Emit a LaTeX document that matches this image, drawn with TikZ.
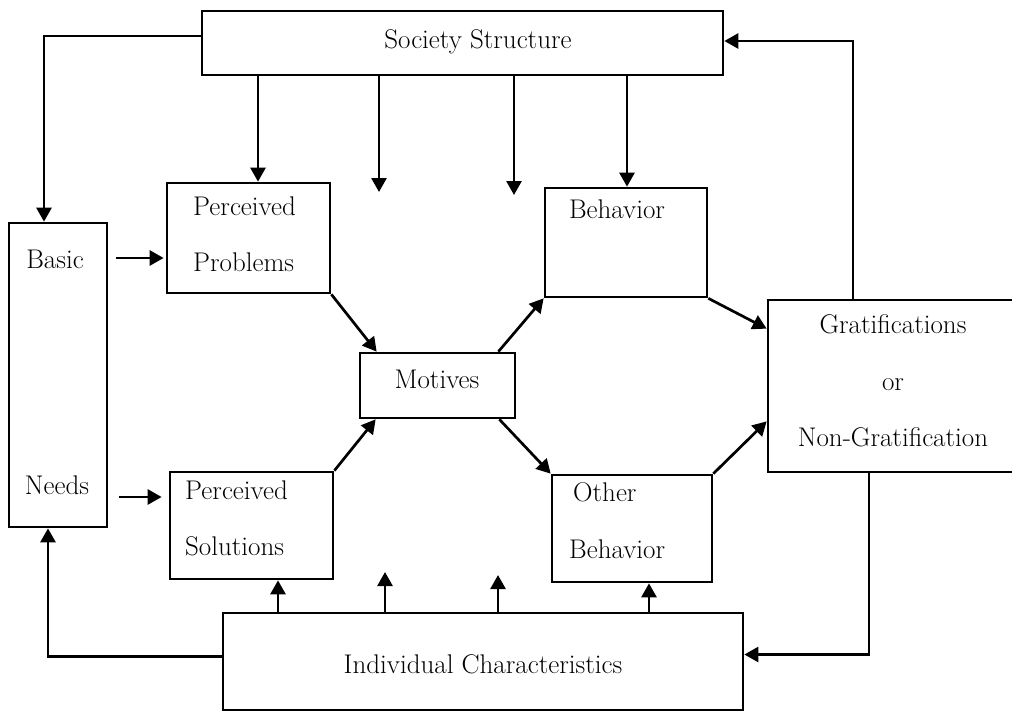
\documentclass[tikz,border=0pt]{standalone}
\usepackage{fontspec}
\usepackage{tikz}
\usetikzlibrary{positioning,arrows.meta}

\begin{document}
\begin{tikzpicture}[x=1pt, y=-1pt,
    box/.style={draw, line width=2.7pt, inner sep=0pt},
    txt/.style={font=\fontsize{27}{32}\selectfont, inner sep=0pt, text height=19pt, text depth=6pt},
    arr/.style={-{Triangle[length=14pt,width=15pt]}, line width=2.7pt}]
        \useasboundingbox (0,0) rectangle (1012,712);

        % boxes
        \node[box, minimum width=521pt, minimum height=64pt] (society) at (462.5,43) {};
        \node[box, minimum width=98pt, minimum height=304pt] (basic) at (58,375) {};
        \node[box, minimum width=163pt, minimum height=110pt] (probs) at (248.5,238) {};
        \node[box, minimum width=163pt, minimum height=107pt] (sols) at (251.5,525.5) {};
        \node[box, minimum width=155pt, minimum height=65pt] (motives) at (437.5,385.5) {};
        \node[box, minimum width=162pt, minimum height=109pt] (behav) at (626,242.5) {};
        \node[box, minimum width=160pt, minimum height=107pt] (other) at (632,528.5) {};
        \node[box, minimum width=256pt, minimum height=172pt] (grat) at (896,386) {};
        \node[box, minimum width=520pt, minimum height=97pt] (indiv) at (483,661.5) {};

        % texts
        \node[txt] (societyT) at (478,42) {Society Structure};
        \node[txt] (basicT) at (55,262) {Basic};
        \node[txt] (needsT) at (57,488) {Needs};
        \node[txt, anchor=west] (probsT1) at (193,209) {Perceived};
        \node[txt, anchor=west] (probsT2) at (193,265) {Problems};
        \node[txt] (motivesT) at (437,382) {Motives};
        \node[txt] (behavT) at (617,212) {Behavior};
        \node[txt, anchor=west] (solsT1) at (185,493) {Perceived};
        \node[txt, anchor=west] (solsT2) at (185,549) {Solutions};
        \node[txt, anchor=west] (otherT1) at (573,495) {Other};
        \node[txt, anchor=west] (otherT2) at (569,552) {Behavior};
        \node[txt] (gratT1) at (893,327) {Gratifications};
        \node[txt] (gratT2) at (893,384) {or};
        \node[txt] (gratT3) at (893,440) {Non-Gratification};
        \node[txt] (indivT) at (483,667) {Individual Characteristics};

        % free arrow ends
        \coordinate (s1) at (379,192);
        \coordinate (s2) at (514,195);
        \coordinate (i1) at (385,572);
        \coordinate (i2) at (498,575);

        % society structure down
        \draw[arr] ([yshift=7pt]society.west) -| ([xshift=-14pt]basic.north);
        \draw[arr] ([xshift=9.5pt]probs.north |- society.south) -- ([xshift=9.5pt]probs.north);
        \draw[arr] (society.south -| s1) -- (s1);
        \draw[arr] (society.south -| s2) -- (s2);
        \draw[arr] ([xshift=1pt]behav.north |- society.south) -- ([xshift=1pt]behav.north);

        % needs to perceptions
        \draw[arr] ([xshift=8pt,yshift=4pt]basic.east |- basicT) -- ([xshift=-2pt,yshift=4pt]probs.west |- basicT);
        \draw[arr] ([xshift=11pt,yshift=-9pt]basic.east |- needsT) -- ([xshift=-7pt,yshift=-9pt]sols.west |- needsT);

        % through motives
        \draw[arr] (probs.south east) -- ([xshift=18pt]motives.north west);
        \draw[arr] (sols.north east) -- ([xshift=17pt]motives.south west);
        \draw[arr] ([xshift=-18pt]motives.north east) -- (behav.south west);
        \draw[arr] ([xshift=-17pt]motives.south east) -- (other.north west);
        \draw[arr] (behav.south east) -- ([yshift=-30pt]grat.north west);
        \draw[arr] (other.north east) -- ([yshift=52pt]grat.south west);

        % feedback
        \draw[arr] ([xshift=-43pt]grat.north) |- ([yshift=2pt]society.east);
        \draw[arr] ([xshift=-27pt]grat.south) |- ([yshift=7pt]indiv.east);
        \draw[arr] ([yshift=5pt]indiv.west) -| ([xshift=-10pt]basic.south);

        % individual characteristics up
        \draw[arr] ([xshift=26.5pt]sols.south |- indiv.north) -- ([xshift=26.5pt]sols.south);
        \draw[arr] (indiv.north -| i1) -- (i1);
        \draw[arr] (indiv.north -| i2) -- (i2);
        \draw[arr] ([xshift=17pt]other.south |- indiv.north) -- ([xshift=17pt]other.south);
    \end{tikzpicture}
\end{document}
